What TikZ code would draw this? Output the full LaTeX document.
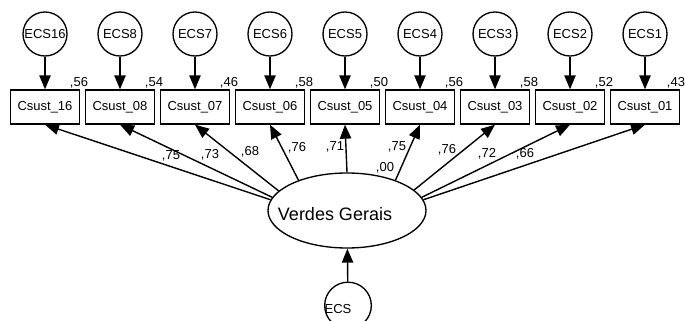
\documentclass[tikz,border=0pt]{standalone}
\usepackage{fontspec}
\setmainfont{Liberation Sans}
\usetikzlibrary{arrows.meta,shapes.geometric}
\begin{document}
\begin{tikzpicture}[x=0.75pt,y=-0.75pt,
  every node/.style={font=\fontsize{9.75pt}{11pt}\selectfont},
  errvar/.style={draw,circle,minimum size=33pt,inner sep=0pt,line width=1pt},
  obsvar/.style={draw,rectangle,minimum width=51.75pt,minimum height=25.5pt,inner sep=0pt,line width=1pt},
  latvar/.style={draw,ellipse,minimum width=118.5pt,minimum height=56.25pt,inner sep=0pt,line width=1pt},
  regpath/.style={line width=1.05pt,-{Triangle[length=10.5pt,width=8.5pt]}},
  coef/.style={inner sep=0pt}]
\useasboundingbox (0,0) rectangle (685,321);

% observed indicators with their error terms and squared multiple correlations
\foreach \i/\item/\e/\r/\dx in {0/16/16/56/0,1/08/8/54/0,2/07/7/46/0,3/06/6/58/0,4/05/5/50/0,5/04/4/56/0,6/03/3/58/0,7/02/2/52/0,8/01/1/43/-3}{
  \node[obsvar] (box\i) at ({45+75*\i},107) {Csust\_\item};
  \node[errvar] (err\i) at ({45+75*\i},34) {ECS\e};
  \draw[regpath] (err\i) -- (box\i);
  \node[coef,anchor=base] (r\i) at ({79+75*\i+\dx},87) {,\r};
}

% latent factor
\node[latvar] (lat) at (347,210.5) {};
\node[inner sep=0pt,font=\fontsize{13.5pt}{15pt}\selectfont] (latname) at (335,214) {Verdes Gerais};

% disturbance of the latent factor
\node[errvar,minimum size=35pt] (ecs) at (348,305.5) {};
\node[inner sep=0pt] (ecsname) at (338,309) {ECS};
\draw[regpath] (ecs) -- (lat);

% loadings
\foreach \i/\a in {0/172,1/170,2/164,3/148,4/90,5/32,6/17,7/10,8/8}{
  \draw[regpath] (lat.\a) -- (box\i.south);
}
\node[coef] (l0) at (171,156) {,75};
\node[coef] (l1) at (210,155) {,73};
\node[coef] (l2) at (250,152) {,68};
\node[coef] (l3) at (297,148) {,76};
\node[coef] (l4) at (335,147) {,71};
\node[coef] (l5) at (397,147) {,75};
\node[coef] (l6) at (447,150) {,76};
\node[coef] (l7) at (487,154) {,72};
\node[coef] (l8) at (525,154) {,66};
\node[coef] (rlat) at (385,168) {,00};
\end{tikzpicture}
\end{document}
